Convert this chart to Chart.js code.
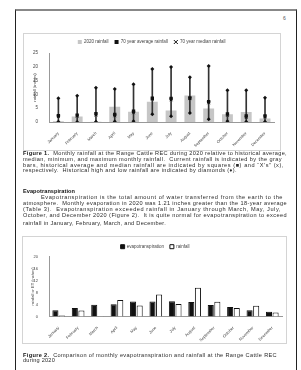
<!DOCTYPE html>
<html>
<head>
<meta charset="utf-8">
<script src="https://cdn.jsdelivr.net/npm/chart.js@4.4.0/dist/chart.umd.min.js"></script>
<style>
    html, body { margin: 0; padding: 0; background: #fff; }
    body {
        width: 301px; height: 370px; position: relative; overflow: hidden;
        font-family: "Liberation Sans", Arial, sans-serif; color: #2a2a2a;
    }
    .page {
        position: absolute; left: 15px; top: 9px; width: 280px; height: 380px;
        border-left: 1px solid #222; border-right: 1px solid #222; border-top: 2px solid #888;
    }
    .box { position: absolute; border: 1px solid #d4d4d4; box-sizing: border-box; pointer-events: none; }
    .wrap { position: absolute; }
    .ln {
        position: absolute; white-space: nowrap; font-size: 5.6px; line-height: 6px;
    }
    .ln b { color: #111; }
    .pg { position: absolute; left: 283px; top: 15px; font-size: 5px; color: #555; }
</style>
</head>
<body>
<div class="page"></div>
<div class="pg">6</div>

<div class="wrap" style="left:23px; top:33px; width:258px; height:117px;">
    <canvas id="rainChart" width="258" height="117"></canvas>
</div>
<div class="box" style="left:23px; top:33px; width:258px; height:118px;"></div>

<div class="ln jl" data-w="264" style="left:23px; top:150.3px;"><b>Figure 1.</b>&nbsp; Monthly rainfall at the Range Cattle REC during 2020 relative to historical average,</div>
<div class="ln jl" data-w="259" style="left:23px; top:156px;">median, minimum, and maximum monthly rainfall.&nbsp; Current rainfall is indicated by the gray</div>
<div class="ln jl" data-w="261" style="left:23px; top:161.5px;">bars, historical average and median rainfall are indicated by squares (■) and “X’s” (x),</div>
<div class="ln jl" data-w="214" style="left:23px; top:167px;">respectively.&nbsp; Historical high and low rainfall are indicated by diamonds (♦).</div>

<div class="ln jl" data-w="52" style="left:23px; top:187.5px; font-weight:bold; color:#111;">Evapotranspiration</div>
<div class="ln jl" data-w="242" style="left:41px; top:194.3px;">Evapotranspiration is the total amount of water transferred from the earth to the</div>
<div class="ln jl" data-w="264" style="left:23px; top:200.3px;">atmosphere.&nbsp; Monthly evaporation in 2020 was 1.21 inches greater than the 18-year average</div>
<div class="ln jl" data-w="258" style="left:23px; top:206.3px;">(Table 3).&nbsp; Evapotranspiration exceeded rainfall in January through March, May, July,</div>
<div class="ln jl" data-w="264" style="left:23px; top:212.3px;">October, and December 2020 (Figure 2).&nbsp; It is quite normal for evapotranspiration to exceed</div>
<div class="ln jl" data-w="143" style="left:23px; top:219.5px;">rainfall in January, February, March, and December.</div>

<div class="wrap" style="left:22px; top:236px; width:265px; height:107px;">
    <canvas id="etChart" width="265" height="107"></canvas>
</div>
<div class="box" style="left:22px; top:236px; width:265px; height:108px;"></div>

<div class="ln jl" data-w="254" style="left:23px; top:351.5px;"><b>Figure 2.</b>&nbsp; Comparison of monthly evapotranspiration and rainfall at the Range Cattle REC</div>
<div class="ln jl" data-w="32" style="left:23px; top:357px;">during 2020</div>

<script>
const months = ['January', 'February', 'March', 'April', 'May', 'June', 'July',
    'August', 'September', 'October', 'November', 'December'];

// Figure 1 - monthly rainfall (inches)
const rain2020 = [0.3, 2.0, 0.1, 5.5, 3.7, 7.3, 4.2, 9.6, 4.9, 2.8, 3.6, 1.3];
const rainAverage = [2.3, 2.5, 3.0, 2.7, 3.9, 8.6, 8.5, 8.7, 7.4, 2.9, 2.2, 2.2];
const rainMedian = [1.9, 2.1, 2.5, 2.2, 3.3, 8.2, 8.0, 8.4, 6.9, 2.4, 1.6, 1.8];
const rainMax = [8.6, 9.5, 12.4, 12.0, 13.7, 19.2, 19.9, 16.2, 20.3, 11.5, 11.5, 8.8];
const rainMin = [0.1, 0.0, 0.1, 0.2, 0.3, 2.8, 2.1, 3.3, 1.0, 0.3, 0.1, 0.1];
const rainTicks = [0, 5, 10, 15, 20, 25];

// Figure 2 - evapotranspiration vs rainfall (inches)
const et2020 = [2.1, 2.8, 3.9, 4.1, 5.0, 5.0, 5.1, 4.8, 3.8, 3.2, 2.1, 1.6];
const etRainfall = [0.3, 2.0, 0.1, 5.5, 3.7, 7.3, 4.2, 9.6, 4.9, 2.8, 3.6, 1.3];
const etTicks = [0, 2, 4, 6, 8, 10, 12, 14, 16, 18, 20];

Chart.defaults.font.family = '"Liberation Sans", Arial, sans-serif';
Chart.defaults.color = '#444';
Chart.defaults.animation = false;

document.addEventListener('DOMContentLoaded', () => {
    fitLines();
    createRainChart();
    createEtChart();
});

// Spread the spare width of each text line over its characters
function fitLines() {
    document.querySelectorAll('.jl').forEach(el => {
        const target = parseFloat(el.dataset.w);
        const natural = el.getBoundingClientRect().width;
        const chars = el.textContent.length;
        el.style.letterSpacing = ((target - natural) / chars) + 'px';
    });
}

function monthAxis(height) {
    return {
        ticks: { font: { size: 4 }, maxRotation: 45, minRotation: 45, autoSkip: false, padding: 1 },
        grid: { display: false },
        border: { color: '#999' },
        afterFit: s => { s.height = height; }
    };
}

function createRainChart() {
    const ctx = document.getElementById('rainChart').getContext('2d');

    new Chart(ctx, {
        data: {
            labels: months,
            datasets: [
                {
                    type: 'line', label: '70 year average rainfall', data: rainAverage,
                    showLine: false, pointStyle: 'rect', pointRadius: 2.4,
                    backgroundColor: '#111', borderColor: '#111', borderWidth: 0, order: 1
                },
                {
                    type: 'line', label: '70 year median rainfall', data: rainMedian,
                    showLine: false, pointStyle: 'crossRot', pointRadius: 1.8,
                    backgroundColor: '#111', borderColor: '#111', borderWidth: 1, order: 0
                },
                {
                    type: 'line', label: 'high', data: rainMax,
                    showLine: false, pointStyle: 'rectRot', pointRadius: 2,
                    backgroundColor: '#111', borderColor: '#111', borderWidth: 0, order: 2
                },
                {
                    type: 'line', label: 'low', data: rainMin,
                    showLine: false, pointStyle: 'rectRot', pointRadius: 2,
                    backgroundColor: '#111', borderColor: '#111', borderWidth: 0, order: 2
                },
                {
                    type: 'bar', label: 'range', data: months.map((m, i) => [rainMin[i], rainMax[i]]),
                    backgroundColor: '#333', barThickness: 1, grouped: false, order: 3
                },
                {
                    type: 'bar', label: '2020 rainfall', data: rain2020,
                    backgroundColor: '#c6c6c6', pointStyle: 'rect',
                    categoryPercentage: 0.58, barPercentage: 1, grouped: false, order: 4
                }
            ]
        },
        options: {
            responsive: false,
            layout: { padding: { top: 0.75, left: 6, right: 6.6, bottom: 0 } },
            plugins: {
                legend: {
                    maxHeight: 19.25,
                    labels: {
                        font: { size: 4.5 }, color: '#444', padding: 6,
                        usePointStyle: true, boxWidth: 4, boxHeight: 4,
                        filter: item => ['2020 rainfall', '70 year average rainfall', '70 year median rainfall'].includes(item.text),
                        sort: (a, b) => {
                            const order = ['2020 rainfall', '70 year average rainfall', '70 year median rainfall'];
                            return order.indexOf(a.text) - order.indexOf(b.text);
                        }
                    }
                },
                tooltip: { enabled: false }
            },
            scales: {
                x: monthAxis(28),
                y: {
                    min: 0, max: 25,
                    afterBuildTicks: s => { s.ticks = rainTicks.map(v => ({ value: v })); },
                    ticks: { font: { size: 4.5 }, padding: 3 },
                    grid: { display: false },
                    border: { color: '#999' },
                    title: { display: true, text: 'rainfall (inches)', font: { size: 4.2 }, padding: { top: 3, bottom: 0 } },
                    afterFit: s => { s.width = 20; }
                }
            }
        }
    });
}

function createEtChart() {
    const ctx = document.getElementById('etChart').getContext('2d');

    new Chart(ctx, {
        type: 'bar',
        data: {
            labels: months,
            datasets: [
                {
                    label: 'evapotranspiration', data: et2020,
                    backgroundColor: '#111', borderColor: '#111', borderWidth: 1,
                    categoryPercentage: 0.68, barPercentage: 0.92
                },
                {
                    label: 'rainfall', data: etRainfall,
                    backgroundColor: '#fff', borderColor: '#111', borderWidth: 1,
                    categoryPercentage: 0.68, barPercentage: 0.92
                }
            ]
        },
        options: {
            responsive: false,
            layout: { padding: { top: 2.45, left: 6, right: 5, bottom: 0 } },
            plugins: {
                legend: {
                    maxHeight: 18.05,
                    labels: { font: { size: 4.5 }, color: '#444', padding: 6, boxWidth: 4, boxHeight: 4 }
                },
                tooltip: { enabled: false }
            },
            scales: {
                x: monthAxis(26.5),
                y: {
                    min: 0, max: 20,
                    afterBuildTicks: s => { s.ticks = etTicks.map(v => ({ value: v })); },
                    ticks: { font: { size: 4 }, padding: 3 },
                    grid: { display: false },
                    border: { color: '#999' },
                    title: { display: true, text: 'rainfall or ET (inches)', font: { size: 4 }, padding: { top: 2.5, bottom: 0 } },
                    afterFit: s => { s.width = 21; }
                }
            }
        }
    });
}
</script>
</body>
</html>
